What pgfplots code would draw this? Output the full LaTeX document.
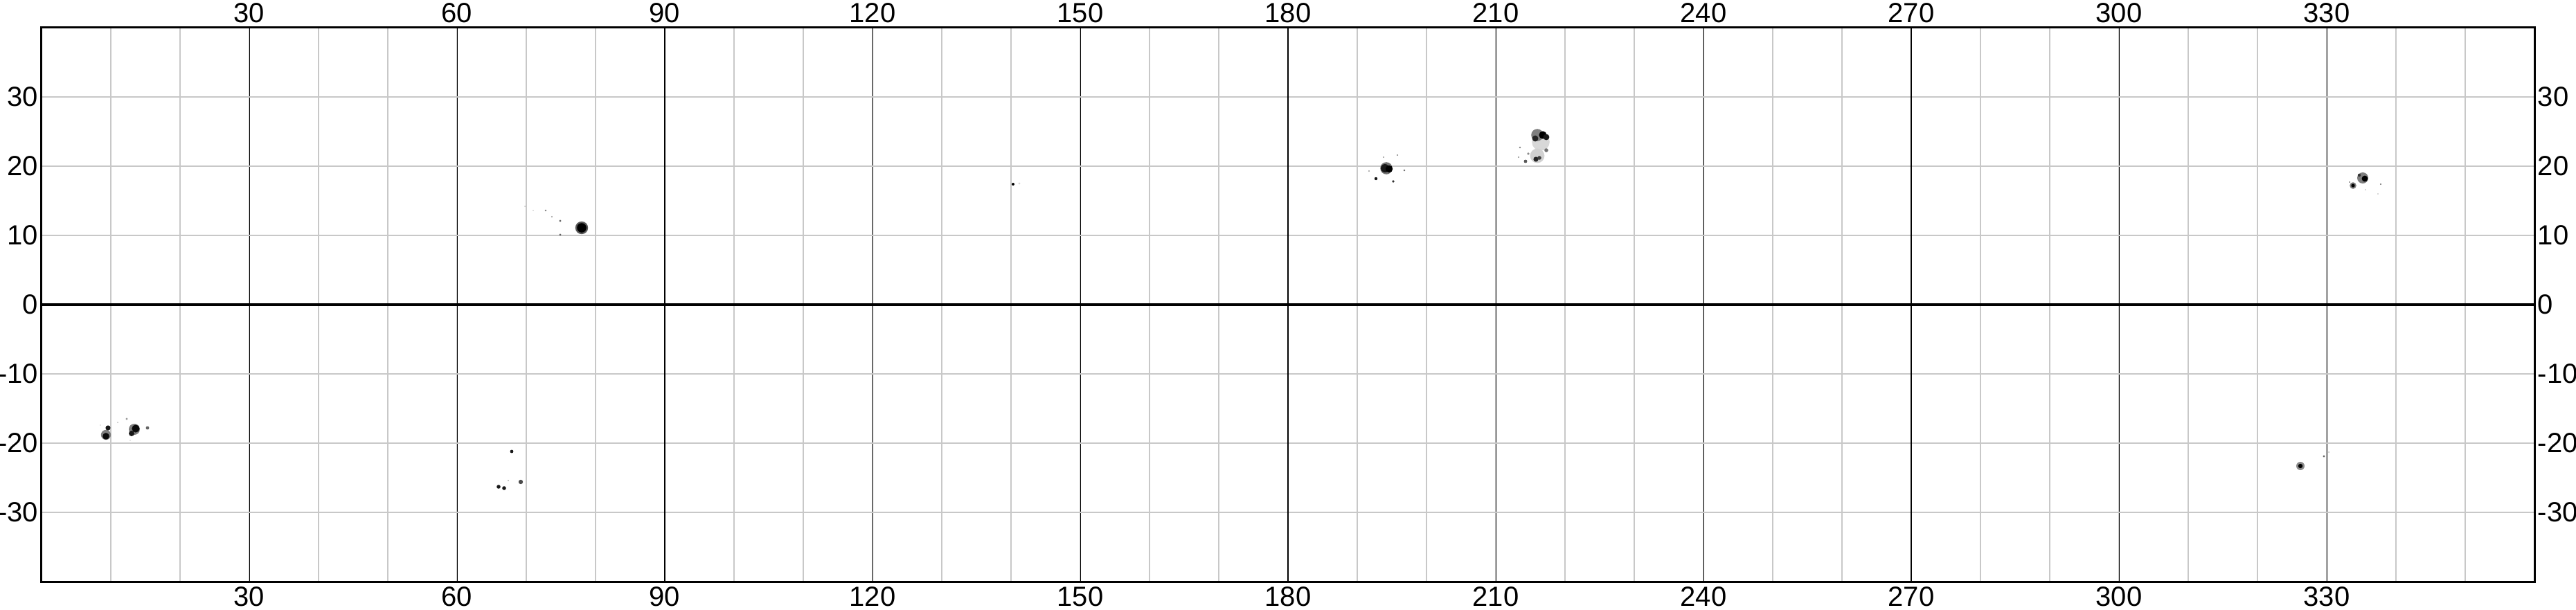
\documentclass[border=0pt]{standalone}
\usepackage{pgfplots}
\pgfplotsset{compat=1.18}
\usepackage{pgfplotstable}
\usepackage{fontspec}
\setmainfont{Liberation Sans}
\definecolor{gridgray}{RGB}{200,200,200}
\pgfdeclareplotmark{fdot}{\pgfpathcircle{\pgfpointorigin}{\pgfplotmarksize}\pgfusepathqfill}

\pgfplotstableread{
x y r g
9.3 -18.8 1.8 0.5
9.3 -19.0 1.2 0.95
9.6 -17.8 0.9 0.9
13.4 -18.0 2.0 0.5
13.6 -17.9 1.4 0.95
13.0 -18.6 1.0 0.9
15.3 -17.8 0.6 0.6
12.3 -16.5 0.4 0.4
11.0 -17.0 0.25 0.25
8.5 -17.4 0.2 0.2
12.8 -19.6 0.2 0.2
67.9 -21.2 0.6 0.9
69.2 -25.6 0.8 0.7
66.0 -26.3 0.7 0.9
66.8 -26.5 0.7 0.9
67.4 -25.4 0.3 0.3
78.0 11.1 2.3 0.65
78.0 11.1 1.7 1.0
74.9 12.1 0.4 0.6
74.9 10.1 0.4 0.6
72.8 13.6 0.35 0.5
73.7 12.7 0.3 0.4
71.0 13.6 0.2 0.25
69.8 14.2 0.25 0.25
140.3 17.4 0.5 1.0
141.2 17.5 0.4 0.15
194.2 19.7 2.2 0.55
194.0 19.7 1.5 0.9
194.6 19.6 1.3 1.0
192.7 18.2 0.55 0.9
195.2 17.8 0.45 0.8
196.8 19.4 0.35 0.6
195.8 21.6 0.3 0.5
193.8 21.3 0.3 0.4
191.7 19.3 0.3 0.4
216.5 23.5 3.2 0.15
216.0 21.5 2.6 0.18
216.0 24.5 2.2 0.5
216.8 24.5 1.4 1.0
215.7 24.0 1.1 0.85
217.3 24.2 1.1 0.9
215.8 21.0 0.9 0.85
216.3 21.2 0.7 0.75
214.3 20.7 0.6 0.65
217.3 22.3 0.7 0.55
213.5 22.7 0.35 0.5
214.7 21.8 0.45 0.45
213.3 21.3 0.3 0.45
335.2 18.3 2.0 0.5
335.5 18.2 1.1 1.0
334.7 18.7 0.55 0.8
333.8 17.2 1.2 0.5
333.8 17.2 0.65 1.0
337.8 17.4 0.3 0.6
333.3 17.7 0.25 0.6
335.6 16.6 0.2 0.3
337.4 16.0 0.2 0.3
326.2 -23.3 1.5 0.45
326.2 -23.3 0.8 1.0
329.6 -21.9 0.4 0.6
330.3 -21.3 0.25 0.3
}\spots

\begin{document}
\begin{tikzpicture}
\pgfplotsset{
  base/.style={
    width=900pt, height=200pt, scale only axis,
    at={(0,0)}, anchor=south west,
    xmin=0, xmax=360, ymin=-40, ymax=40,
    xtick={30,60,...,330}, ytick={-30,-20,...,30},
    major tick length=0pt, minor tick length=0pt,
    axis line style={line width=0.75pt},
    tick label style={font=\fontsize{10}{12}\selectfont},
    /pgf/number format/assume math mode=true,
    xticklabel style={inner sep=1.6pt},
    yticklabel style={inner sep=1pt},
  }
}
\begin{axis}[base,
  xticklabel pos=lower, yticklabel pos=left,
  minor xtick={10,20,...,350},
  xmajorgrids, xminorgrids, ymajorgrids,
  major x grid style={black, line width=0.25pt},
  minor x grid style={gridgray, line width=0.3pt},
  major y grid style={gridgray, line width=0.3pt},
  colormap={bw}{gray(0cm)=(1); gray(1cm)=(0)},
  point meta min=0, point meta max=1,
]
\addplot[black, line width=0.5pt] coordinates {(90,-40) (90,40)};
\addplot[black, line width=0.5pt] coordinates {(180,-40) (180,40)};
\addplot[black, line width=0.5pt] coordinates {(270,-40) (270,40)};
\addplot[black, line width=1pt] coordinates {(0,0) (360,0)};
\addplot[scatter, only marks, mark=fdot, point meta=explicit,
  scatter/use mapped color={draw=none, fill=mapped color},
  visualization depends on={\thisrow{r} \as \rad},
  scatter/@pre marker code/.append style={/tikz/mark size=\rad}]
  table[x=x, y=y, meta=g] {\spots};
\end{axis}
\begin{axis}[base,
  xticklabel pos=upper, yticklabel pos=right,
  yticklabel style={anchor=west},
]
\addplot[draw=none] coordinates {(0,0)};
\end{axis}
\pgfresetboundingbox
\path[use as bounding box] (-15pt,-10pt) rectangle (915pt,210pt);
\end{tikzpicture}
\end{document}
